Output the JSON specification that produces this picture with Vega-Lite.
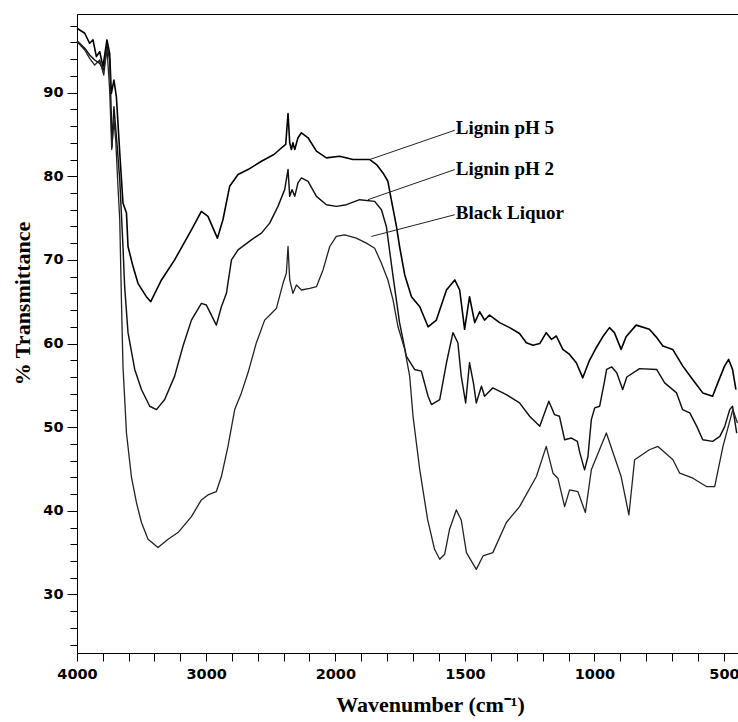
{
  "$schema": "https://vega.github.io/schema/vega-lite/v6.json",
  "width": 661,
  "height": 639,
  "autosize": {"type": "none"},
  "padding": {"left": 77, "top": 14, "right": 0, "bottom": 69},
  "background": "white",
  "config": {
    "view": {"stroke": "black", "strokeWidth": 1},
    "axis": {"grid": false, "domainColor": "black", "tickColor": "black", "labelColor": "black", "titleColor": "black", "labelOverlap": false, "labelFlush": false, "labelBound": false}
  },
  "resolve": {"axis": {"x": "independent", "y": "independent"}},
  "datasets": {
    "spectra": [
      {"series": "Lignin pH 5", "wn": 4000, "t": 97.7}, {"series": "Lignin pH 5", "wn": 3940, "t": 97.1}, {"series": "Lignin pH 5", "wn": 3902, "t": 95.9}, {"series": "Lignin pH 5", "wn": 3876, "t": 96.3}, {"series": "Lignin pH 5", "wn": 3850, "t": 94.3}, {"series": "Lignin pH 5", "wn": 3824, "t": 94.9}, {"series": "Lignin pH 5", "wn": 3799, "t": 93.1}, {"series": "Lignin pH 5", "wn": 3768, "t": 96.3}, {"series": "Lignin pH 5", "wn": 3747, "t": 94.7}, {"series": "Lignin pH 5", "wn": 3734, "t": 89.9}, {"series": "Lignin pH 5", "wn": 3714, "t": 91.5}, {"series": "Lignin pH 5", "wn": 3695, "t": 89.5}, {"series": "Lignin pH 5", "wn": 3669, "t": 82.8}, {"series": "Lignin pH 5", "wn": 3644, "t": 76.8}, {"series": "Lignin pH 5", "wn": 3617, "t": 75.6}, {"series": "Lignin pH 5", "wn": 3605, "t": 71.6}, {"series": "Lignin pH 5", "wn": 3566, "t": 69.2}, {"series": "Lignin pH 5", "wn": 3528, "t": 67.2}, {"series": "Lignin pH 5", "wn": 3463, "t": 65.6}, {"series": "Lignin pH 5", "wn": 3429, "t": 65.0}, {"series": "Lignin pH 5", "wn": 3346, "t": 67.6}, {"series": "Lignin pH 5", "wn": 3244, "t": 70.0}, {"series": "Lignin pH 5", "wn": 3114, "t": 73.6}, {"series": "Lignin pH 5", "wn": 3037, "t": 75.8}, {"series": "Lignin pH 5", "wn": 2986, "t": 75.2}, {"series": "Lignin pH 5", "wn": 2913, "t": 72.6}, {"series": "Lignin pH 5", "wn": 2870, "t": 74.8}, {"series": "Lignin pH 5", "wn": 2818, "t": 78.8}, {"series": "Lignin pH 5", "wn": 2753, "t": 80.2}, {"series": "Lignin pH 5", "wn": 2676, "t": 80.8}, {"series": "Lignin pH 5", "wn": 2572, "t": 81.8}, {"series": "Lignin pH 5", "wn": 2475, "t": 82.6}, {"series": "Lignin pH 5", "wn": 2431, "t": 83.2}, {"series": "Lignin pH 5", "wn": 2384, "t": 83.8}, {"series": "Lignin pH 5", "wn": 2366, "t": 87.5}, {"series": "Lignin pH 5", "wn": 2353, "t": 84.0}, {"series": "Lignin pH 5", "wn": 2340, "t": 83.2}, {"series": "Lignin pH 5", "wn": 2328, "t": 84.0}, {"series": "Lignin pH 5", "wn": 2314, "t": 83.2}, {"series": "Lignin pH 5", "wn": 2289, "t": 84.6}, {"series": "Lignin pH 5", "wn": 2262, "t": 85.2}, {"series": "Lignin pH 5", "wn": 2211, "t": 84.6}, {"series": "Lignin pH 5", "wn": 2146, "t": 83.0}, {"series": "Lignin pH 5", "wn": 2069, "t": 82.2}, {"series": "Lignin pH 5", "wn": 1983, "t": 82.4}, {"series": "Lignin pH 5", "wn": 1932, "t": 82.0}, {"series": "Lignin pH 5", "wn": 1867, "t": 82.0}, {"series": "Lignin pH 5", "wn": 1841, "t": 81.4}, {"series": "Lignin pH 5", "wn": 1816, "t": 80.4}, {"series": "Lignin pH 5", "wn": 1797, "t": 79.4}, {"series": "Lignin pH 5", "wn": 1784, "t": 77.2}, {"series": "Lignin pH 5", "wn": 1764, "t": 74.0}, {"series": "Lignin pH 5", "wn": 1752, "t": 71.6}, {"series": "Lignin pH 5", "wn": 1732, "t": 68.2}, {"series": "Lignin pH 5", "wn": 1706, "t": 65.6}, {"series": "Lignin pH 5", "wn": 1674, "t": 64.4}, {"series": "Lignin pH 5", "wn": 1642, "t": 62.0}, {"series": "Lignin pH 5", "wn": 1610, "t": 62.8}, {"series": "Lignin pH 5", "wn": 1571, "t": 66.4}, {"series": "Lignin pH 5", "wn": 1539, "t": 67.6}, {"series": "Lignin pH 5", "wn": 1520, "t": 66.4}, {"series": "Lignin pH 5", "wn": 1501, "t": 61.7}, {"series": "Lignin pH 5", "wn": 1482, "t": 65.6}, {"series": "Lignin pH 5", "wn": 1462, "t": 62.5}, {"series": "Lignin pH 5", "wn": 1443, "t": 63.8}, {"series": "Lignin pH 5", "wn": 1424, "t": 62.8}, {"series": "Lignin pH 5", "wn": 1405, "t": 63.4}, {"series": "Lignin pH 5", "wn": 1366, "t": 62.5}, {"series": "Lignin pH 5", "wn": 1327, "t": 61.9}, {"series": "Lignin pH 5", "wn": 1289, "t": 61.2}, {"series": "Lignin pH 5", "wn": 1263, "t": 60.1}, {"series": "Lignin pH 5", "wn": 1237, "t": 59.8}, {"series": "Lignin pH 5", "wn": 1211, "t": 60.0}, {"series": "Lignin pH 5", "wn": 1186, "t": 61.3}, {"series": "Lignin pH 5", "wn": 1166, "t": 60.5}, {"series": "Lignin pH 5", "wn": 1147, "t": 60.9}, {"series": "Lignin pH 5", "wn": 1122, "t": 59.3}, {"series": "Lignin pH 5", "wn": 1096, "t": 58.7}, {"series": "Lignin pH 5", "wn": 1070, "t": 57.7}, {"series": "Lignin pH 5", "wn": 1045, "t": 55.9}, {"series": "Lignin pH 5", "wn": 1019, "t": 58.0}, {"series": "Lignin pH 5", "wn": 993, "t": 59.5}, {"series": "Lignin pH 5", "wn": 968, "t": 60.8}, {"series": "Lignin pH 5", "wn": 942, "t": 61.9}, {"series": "Lignin pH 5", "wn": 923, "t": 61.3}, {"series": "Lignin pH 5", "wn": 897, "t": 59.3}, {"series": "Lignin pH 5", "wn": 878, "t": 60.8}, {"series": "Lignin pH 5", "wn": 839, "t": 62.2}, {"series": "Lignin pH 5", "wn": 788, "t": 61.7}, {"series": "Lignin pH 5", "wn": 762, "t": 60.8}, {"series": "Lignin pH 5", "wn": 736, "t": 59.7}, {"series": "Lignin pH 5", "wn": 698, "t": 59.3}, {"series": "Lignin pH 5", "wn": 659, "t": 57.3}, {"series": "Lignin pH 5", "wn": 621, "t": 55.7}, {"series": "Lignin pH 5", "wn": 582, "t": 54.1}, {"series": "Lignin pH 5", "wn": 544, "t": 53.7}, {"series": "Lignin pH 5", "wn": 524, "t": 55.3}, {"series": "Lignin pH 5", "wn": 498, "t": 57.3}, {"series": "Lignin pH 5", "wn": 482, "t": 58.1}, {"series": "Lignin pH 5", "wn": 467, "t": 56.9}, {"series": "Lignin pH 5", "wn": 454, "t": 54.5},

      {"series": "Lignin pH 2", "wn": 4000, "t": 96.2}, {"series": "Lignin pH 2", "wn": 3940, "t": 95.3}, {"series": "Lignin pH 2", "wn": 3902, "t": 94.5}, {"series": "Lignin pH 2", "wn": 3863, "t": 93.9}, {"series": "Lignin pH 2", "wn": 3824, "t": 93.5}, {"series": "Lignin pH 2", "wn": 3793, "t": 92.7}, {"series": "Lignin pH 2", "wn": 3768, "t": 95.7}, {"series": "Lignin pH 2", "wn": 3747, "t": 93.9}, {"series": "Lignin pH 2", "wn": 3734, "t": 87.1}, {"series": "Lignin pH 2", "wn": 3729, "t": 83.5}, {"series": "Lignin pH 2", "wn": 3714, "t": 88.3}, {"series": "Lignin pH 2", "wn": 3687, "t": 83.2}, {"series": "Lignin pH 2", "wn": 3669, "t": 79.6}, {"series": "Lignin pH 2", "wn": 3644, "t": 71.6}, {"series": "Lignin pH 2", "wn": 3631, "t": 66.8}, {"series": "Lignin pH 2", "wn": 3605, "t": 61.3}, {"series": "Lignin pH 2", "wn": 3553, "t": 56.9}, {"series": "Lignin pH 2", "wn": 3501, "t": 54.5}, {"series": "Lignin pH 2", "wn": 3437, "t": 52.5}, {"series": "Lignin pH 2", "wn": 3385, "t": 52.1}, {"series": "Lignin pH 2", "wn": 3321, "t": 53.3}, {"series": "Lignin pH 2", "wn": 3244, "t": 56.1}, {"series": "Lignin pH 2", "wn": 3179, "t": 59.7}, {"series": "Lignin pH 2", "wn": 3114, "t": 62.8}, {"series": "Lignin pH 2", "wn": 3037, "t": 64.8}, {"series": "Lignin pH 2", "wn": 2998, "t": 64.6}, {"series": "Lignin pH 2", "wn": 2921, "t": 62.2}, {"series": "Lignin pH 2", "wn": 2882, "t": 64.4}, {"series": "Lignin pH 2", "wn": 2843, "t": 66.0}, {"series": "Lignin pH 2", "wn": 2804, "t": 70.0}, {"series": "Lignin pH 2", "wn": 2753, "t": 71.2}, {"series": "Lignin pH 2", "wn": 2650, "t": 72.4}, {"series": "Lignin pH 2", "wn": 2572, "t": 73.2}, {"series": "Lignin pH 2", "wn": 2508, "t": 74.4}, {"series": "Lignin pH 2", "wn": 2444, "t": 76.4}, {"series": "Lignin pH 2", "wn": 2392, "t": 78.4}, {"series": "Lignin pH 2", "wn": 2366, "t": 80.8}, {"series": "Lignin pH 2", "wn": 2353, "t": 77.6}, {"series": "Lignin pH 2", "wn": 2335, "t": 78.4}, {"series": "Lignin pH 2", "wn": 2314, "t": 77.6}, {"series": "Lignin pH 2", "wn": 2289, "t": 79.2}, {"series": "Lignin pH 2", "wn": 2262, "t": 79.8}, {"series": "Lignin pH 2", "wn": 2211, "t": 79.4}, {"series": "Lignin pH 2", "wn": 2146, "t": 77.6}, {"series": "Lignin pH 2", "wn": 2069, "t": 76.6}, {"series": "Lignin pH 2", "wn": 1996, "t": 76.4}, {"series": "Lignin pH 2", "wn": 1957, "t": 76.6}, {"series": "Lignin pH 2", "wn": 1906, "t": 77.2}, {"series": "Lignin pH 2", "wn": 1848, "t": 77.0}, {"series": "Lignin pH 2", "wn": 1822, "t": 76.0}, {"series": "Lignin pH 2", "wn": 1803, "t": 74.0}, {"series": "Lignin pH 2", "wn": 1777, "t": 68.0}, {"series": "Lignin pH 2", "wn": 1752, "t": 62.5}, {"series": "Lignin pH 2", "wn": 1726, "t": 58.5}, {"series": "Lignin pH 2", "wn": 1694, "t": 56.9}, {"series": "Lignin pH 2", "wn": 1668, "t": 56.7}, {"series": "Lignin pH 2", "wn": 1642, "t": 53.7}, {"series": "Lignin pH 2", "wn": 1629, "t": 52.7}, {"series": "Lignin pH 2", "wn": 1597, "t": 53.3}, {"series": "Lignin pH 2", "wn": 1571, "t": 57.7}, {"series": "Lignin pH 2", "wn": 1546, "t": 61.3}, {"series": "Lignin pH 2", "wn": 1527, "t": 60.1}, {"series": "Lignin pH 2", "wn": 1514, "t": 56.1}, {"series": "Lignin pH 2", "wn": 1497, "t": 52.9}, {"series": "Lignin pH 2", "wn": 1482, "t": 57.7}, {"series": "Lignin pH 2", "wn": 1467, "t": 55.3}, {"series": "Lignin pH 2", "wn": 1456, "t": 52.9}, {"series": "Lignin pH 2", "wn": 1436, "t": 54.9}, {"series": "Lignin pH 2", "wn": 1424, "t": 53.7}, {"series": "Lignin pH 2", "wn": 1392, "t": 54.7}, {"series": "Lignin pH 2", "wn": 1340, "t": 53.9}, {"series": "Lignin pH 2", "wn": 1289, "t": 52.9}, {"series": "Lignin pH 2", "wn": 1250, "t": 51.3}, {"series": "Lignin pH 2", "wn": 1211, "t": 50.1}, {"series": "Lignin pH 2", "wn": 1176, "t": 53.1}, {"series": "Lignin pH 2", "wn": 1154, "t": 51.5}, {"series": "Lignin pH 2", "wn": 1135, "t": 51.3}, {"series": "Lignin pH 2", "wn": 1115, "t": 48.5}, {"series": "Lignin pH 2", "wn": 1089, "t": 48.7}, {"series": "Lignin pH 2", "wn": 1066, "t": 48.3}, {"series": "Lignin pH 2", "wn": 1056, "t": 46.9}, {"series": "Lignin pH 2", "wn": 1038, "t": 44.9}, {"series": "Lignin pH 2", "wn": 1025, "t": 46.5}, {"series": "Lignin pH 2", "wn": 1012, "t": 50.9}, {"series": "Lignin pH 2", "wn": 999, "t": 52.3}, {"series": "Lignin pH 2", "wn": 980, "t": 52.5}, {"series": "Lignin pH 2", "wn": 961, "t": 55.5}, {"series": "Lignin pH 2", "wn": 953, "t": 56.9}, {"series": "Lignin pH 2", "wn": 933, "t": 57.2}, {"series": "Lignin pH 2", "wn": 914, "t": 56.5}, {"series": "Lignin pH 2", "wn": 891, "t": 54.5}, {"series": "Lignin pH 2", "wn": 875, "t": 56.0}, {"series": "Lignin pH 2", "wn": 826, "t": 57.0}, {"series": "Lignin pH 2", "wn": 760, "t": 56.9}, {"series": "Lignin pH 2", "wn": 729, "t": 55.3}, {"series": "Lignin pH 2", "wn": 683, "t": 54.1}, {"series": "Lignin pH 2", "wn": 660, "t": 52.1}, {"series": "Lignin pH 2", "wn": 632, "t": 51.7}, {"series": "Lignin pH 2", "wn": 605, "t": 50.1}, {"series": "Lignin pH 2", "wn": 582, "t": 48.5}, {"series": "Lignin pH 2", "wn": 544, "t": 48.3}, {"series": "Lignin pH 2", "wn": 516, "t": 48.9}, {"series": "Lignin pH 2", "wn": 497, "t": 50.1}, {"series": "Lignin pH 2", "wn": 478, "t": 52.1}, {"series": "Lignin pH 2", "wn": 467, "t": 52.5}, {"series": "Lignin pH 2", "wn": 451, "t": 49.3},

      {"series": "Black Liquor", "wn": 4000, "t": 96.1}, {"series": "Black Liquor", "wn": 3940, "t": 95.1}, {"series": "Black Liquor", "wn": 3902, "t": 94.1}, {"series": "Black Liquor", "wn": 3863, "t": 93.3}, {"series": "Black Liquor", "wn": 3824, "t": 93.9}, {"series": "Black Liquor", "wn": 3793, "t": 92.1}, {"series": "Black Liquor", "wn": 3768, "t": 95.3}, {"series": "Black Liquor", "wn": 3747, "t": 90.3}, {"series": "Black Liquor", "wn": 3731, "t": 83.2}, {"series": "Black Liquor", "wn": 3714, "t": 86.7}, {"series": "Black Liquor", "wn": 3700, "t": 84.3}, {"series": "Black Liquor", "wn": 3683, "t": 78.8}, {"series": "Black Liquor", "wn": 3669, "t": 74.8}, {"series": "Black Liquor", "wn": 3656, "t": 65.2}, {"series": "Black Liquor", "wn": 3644, "t": 57.3}, {"series": "Black Liquor", "wn": 3617, "t": 49.3}, {"series": "Black Liquor", "wn": 3579, "t": 44.1}, {"series": "Black Liquor", "wn": 3540, "t": 41.0}, {"series": "Black Liquor", "wn": 3501, "t": 38.6}, {"series": "Black Liquor", "wn": 3450, "t": 36.6}, {"series": "Black Liquor", "wn": 3373, "t": 35.6}, {"series": "Black Liquor", "wn": 3295, "t": 36.6}, {"series": "Black Liquor", "wn": 3218, "t": 37.4}, {"series": "Black Liquor", "wn": 3114, "t": 39.3}, {"series": "Black Liquor", "wn": 3037, "t": 41.3}, {"series": "Black Liquor", "wn": 2986, "t": 41.9}, {"series": "Black Liquor", "wn": 2921, "t": 42.3}, {"series": "Black Liquor", "wn": 2882, "t": 44.1}, {"series": "Black Liquor", "wn": 2831, "t": 47.7}, {"series": "Black Liquor", "wn": 2779, "t": 52.1}, {"series": "Black Liquor", "wn": 2727, "t": 54.1}, {"series": "Black Liquor", "wn": 2676, "t": 56.5}, {"series": "Black Liquor", "wn": 2611, "t": 60.1}, {"series": "Black Liquor", "wn": 2547, "t": 62.8}, {"series": "Black Liquor", "wn": 2495, "t": 63.6}, {"series": "Black Liquor", "wn": 2456, "t": 64.2}, {"series": "Black Liquor", "wn": 2405, "t": 67.2}, {"series": "Black Liquor", "wn": 2379, "t": 68.4}, {"series": "Black Liquor", "wn": 2366, "t": 71.6}, {"series": "Black Liquor", "wn": 2353, "t": 67.6}, {"series": "Black Liquor", "wn": 2328, "t": 66.0}, {"series": "Black Liquor", "wn": 2301, "t": 67.0}, {"series": "Black Liquor", "wn": 2262, "t": 66.4}, {"series": "Black Liquor", "wn": 2198, "t": 66.6}, {"series": "Black Liquor", "wn": 2146, "t": 66.8}, {"series": "Black Liquor", "wn": 2095, "t": 68.8}, {"series": "Black Liquor", "wn": 2043, "t": 71.6}, {"series": "Black Liquor", "wn": 1996, "t": 72.8}, {"series": "Black Liquor", "wn": 1964, "t": 73.0}, {"series": "Black Liquor", "wn": 1919, "t": 72.6}, {"series": "Black Liquor", "wn": 1880, "t": 72.0}, {"series": "Black Liquor", "wn": 1848, "t": 71.4}, {"series": "Black Liquor", "wn": 1822, "t": 69.6}, {"series": "Black Liquor", "wn": 1797, "t": 67.6}, {"series": "Black Liquor", "wn": 1777, "t": 65.2}, {"series": "Black Liquor", "wn": 1758, "t": 62.0}, {"series": "Black Liquor", "wn": 1732, "t": 59.3}, {"series": "Black Liquor", "wn": 1713, "t": 56.1}, {"series": "Black Liquor", "wn": 1700, "t": 51.3}, {"series": "Black Liquor", "wn": 1674, "t": 44.9}, {"series": "Black Liquor", "wn": 1644, "t": 39.0}, {"series": "Black Liquor", "wn": 1617, "t": 35.4}, {"series": "Black Liquor", "wn": 1597, "t": 34.2}, {"series": "Black Liquor", "wn": 1578, "t": 34.8}, {"series": "Black Liquor", "wn": 1559, "t": 37.8}, {"series": "Black Liquor", "wn": 1533, "t": 40.1}, {"series": "Black Liquor", "wn": 1514, "t": 38.9}, {"series": "Black Liquor", "wn": 1494, "t": 35.0}, {"series": "Black Liquor", "wn": 1456, "t": 33.0}, {"series": "Black Liquor", "wn": 1430, "t": 34.6}, {"series": "Black Liquor", "wn": 1392, "t": 35.0}, {"series": "Black Liquor", "wn": 1340, "t": 38.6}, {"series": "Black Liquor", "wn": 1289, "t": 40.5}, {"series": "Black Liquor", "wn": 1224, "t": 44.1}, {"series": "Black Liquor", "wn": 1186, "t": 47.7}, {"series": "Black Liquor", "wn": 1160, "t": 44.5}, {"series": "Black Liquor", "wn": 1141, "t": 43.9}, {"series": "Black Liquor", "wn": 1115, "t": 40.5}, {"series": "Black Liquor", "wn": 1096, "t": 42.5}, {"series": "Black Liquor", "wn": 1064, "t": 42.3}, {"series": "Black Liquor", "wn": 1035, "t": 39.8}, {"series": "Black Liquor", "wn": 1012, "t": 44.9}, {"series": "Black Liquor", "wn": 954, "t": 49.3}, {"series": "Black Liquor", "wn": 897, "t": 44.1}, {"series": "Black Liquor", "wn": 867, "t": 39.5}, {"series": "Black Liquor", "wn": 845, "t": 46.1}, {"series": "Black Liquor", "wn": 788, "t": 47.3}, {"series": "Black Liquor", "wn": 755, "t": 47.7}, {"series": "Black Liquor", "wn": 697, "t": 46.1}, {"series": "Black Liquor", "wn": 671, "t": 44.5}, {"series": "Black Liquor", "wn": 620, "t": 43.9}, {"series": "Black Liquor", "wn": 568, "t": 42.9}, {"series": "Black Liquor", "wn": 536, "t": 42.9}, {"series": "Black Liquor", "wn": 504, "t": 47.7}, {"series": "Black Liquor", "wn": 466, "t": 52.1}, {"series": "Black Liquor", "wn": 448, "t": 50.5}
    ],
    "leaders": [
      {"label": "Lignin pH 5", "wn1": 1867, "t1": 82.0, "wn2": 1539, "t2": 85.5, "tt": 85.8},
      {"label": "Lignin pH 2", "wn1": 1874, "t1": 77.2, "wn2": 1539, "t2": 80.8, "tt": 80.9},
      {"label": "Black Liquor", "wn1": 1861, "t1": 72.8, "wn2": 1539, "t2": 75.4, "tt": 75.6}
    ]
  },
  "layer": [
    {
      "data": {"name": "spectra"},
      "mark": {"type": "line", "strokeJoin": "round"},
      "encoding": {
        "x": {
          "field": "wn", "type": "quantitative",
          "scale": {"domain": [4000, 2000, 446], "range": [0, 258.3, 661], "zero": false, "nice": false, "clamp": true},
          "axis": {
            "orient": "bottom",
            "values": [4000, 3000, 2000, 1500, 1000, 500],
            "format": "d",
            "tickSize": 8, "labelPadding": 6,
            "labelFont": "DejaVu Sans", "labelFontWeight": "bold", "labelFontSize": 14.5,
            "title": "Wavenumber (cm⁻¹)", "titleFont": "Liberation Serif", "titleFontWeight": "bold", "titleFontSize": 22,
            "titleX": 353, "titleY": 58, "titleBaseline": "alphabetic", "titleAlign": "center", "titleAnchor": null
          }
        },
        "y": {
          "field": "t", "type": "quantitative",
          "scale": {"domain": [23.0, 99.4], "zero": false, "nice": false},
          "axis": {
            "orient": "left",
            "values": [30, 40, 50, 60, 70, 80, 90],
            "tickSize": 10, "labelPadding": 4,
            "labelFont": "DejaVu Sans", "labelFontWeight": "bold", "labelFontSize": 14.5,
            "title": "% Transmittance", "titleFont": "Liberation Serif", "titleFontWeight": "bold", "titleFontSize": 22,
            "titleAngle": 270, "titleX": -55, "titleY": 289, "titleBaseline": "middle", "titleAlign": "center", "titleAnchor": null
          }
        },
        "detail": {"field": "series"},
        "color": {"field": "series", "type": "nominal", "scale": {"domain": ["Lignin pH 5", "Lignin pH 2", "Black Liquor"], "range": ["#000000", "#111111", "#222222"]}, "legend": null},
        "strokeWidth": {"field": "series", "type": "nominal", "scale": {"domain": ["Lignin pH 5", "Lignin pH 2", "Black Liquor"], "range": [1.6, 1.3, 1.0]}, "legend": null}
      }
    },
    {
      "data": {"name": "leaders"},
      "mark": {"type": "rule", "color": "#222222", "strokeWidth": 1},
      "encoding": {
        "x": {"field": "wn1", "type": "quantitative",
          "axis": {"orient": "bottom", "values": [3800, 3600, 3400, 3200, 2800, 2600, 2400, 2200, 1900, 1800, 1700, 1600, 1400, 1300, 1200, 1100, 900, 800, 700, 600], "labels": false, "title": null, "tickSize": 8, "domain": false}},
        "x2": {"field": "wn2"},
        "y": {"field": "t1", "type": "quantitative",
          "axis": {"orient": "left", "values": [24, 26, 28, 32, 34, 36, 38, 42, 44, 46, 48, 52, 54, 56, 58, 62, 64, 66, 68, 72, 74, 76, 78, 82, 84, 86, 88, 92, 94, 96, 98], "labels": false, "title": null, "tickSize": 7, "domain": false}},
        "y2": {"field": "t2"}
      }
    },
    {
      "data": {"name": "leaders"},
      "mark": {"type": "text", "align": "left", "baseline": "middle", "dx": 1, "font": "Liberation Serif", "fontWeight": "bold", "fontSize": 19, "color": "black"},
      "encoding": {
        "x": {"field": "wn2", "type": "quantitative", "axis": null},
        "y": {"field": "tt", "type": "quantitative", "axis": null},
        "text": {"field": "label"}
      }
    }
  ]
}
